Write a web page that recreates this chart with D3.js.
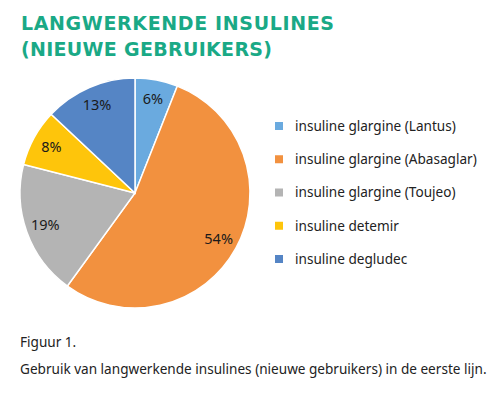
<!DOCTYPE html>
<html lang="nl">
<head>
<meta charset="UTF-8">
<script src="https://cdn.jsdelivr.net/npm/d3@7/dist/d3.min.js"></script>
<style>
  body { margin: 0; background: #fff; }
  text { font-family: "Noto Sans", "Open Sans", sans-serif; }
  text.title { font-family: "DejaVu Sans", "Noto Sans", sans-serif; }
</style>
</head>
<body>
<svg id="chart" width="493" height="396"></svg>
<script>
  // data
  let categories = ["insuline glargine (Lantus)", "insuline glargine (Abasaglar)", "insuline glargine (Toujeo)", "insuline detemir", "insuline degludec"];
  let shares = [6, 54, 19, 8, 13];
  let colors = ["#6aaadf", "#f2913f", "#b4b4b4", "#fec50b", "#5585c5"];
  let titleLines = ["LANGWERKENDE INSULINES", "(NIEUWE GEBRUIKERS)"];
  let captionLines = ["Figuur 1.", "Gebruik van langwerkende insulines (nieuwe gebruikers) in de eerste lijn."];

  let svg = d3.select("#chart");

  // shrink/grow a text's font size so it spans the wanted width
  function fitWidth(sel, width) {
    sel.each(function () {
      let t = d3.select(this);
      let fs = parseFloat(t.attr("font-size"));
      let w = this.getComputedTextLength();
      t.attr("font-size", fs * width / w);
    });
  }

  // title (wide tracking, like the original)
  svg.selectAll(".title").data(titleLines).enter()
    .append("text")
    .attr("class", "title")
    .attr("x", 21)
    .attr("y", (d, i) => 30 + i * 26)
    .attr("fill", "#1aa986")
    .attr("font-size", 19)
    .attr("font-weight", 700)
    .attr("textLength", (d, i) => i == 0 ? 313 : 251)
    .attr("lengthAdjust", "spacing")
    .text(d => d);

  // pie
  let cx = 135, cy = 193, r = 115;
  let pie = d3.pie().sort(null).value(d => d);
  let arc = d3.arc().innerRadius(0).outerRadius(r);
  let labelArc = d3.arc().innerRadius(r * 0.83).outerRadius(r * 0.83);

  let g = svg.append("g").attr("transform", `translate(${cx},${cy})`);
  let slices = pie(shares);

  g.selectAll("path").data(slices).enter()
    .append("path")
    .attr("d", arc)
    .attr("fill", (d, i) => colors[i])
    .attr("stroke", "#fff")
    .attr("stroke-width", 1.5);

  g.selectAll(".lbl").data(slices).enter()
    .append("text")
    .attr("class", "lbl")
    .attr("transform", d => `translate(${labelArc.centroid(d)})`)
    .attr("text-anchor", "middle")
    .attr("dy", "0.35em")
    .attr("font-size", 14.5)
    .attr("fill", "#1a1a1a")
    .text(d => d.data + "%");

  // legend
  let legendY = d3.scalePoint().domain(categories).range([126, 259]);
  let legend = svg.selectAll(".leg").data(categories).enter()
    .append("g")
    .attr("class", "leg")
    .attr("transform", d => `translate(275,${legendY(d)})`);

  legend.append("rect")
    .attr("x", 0).attr("y", -4)
    .attr("width", 8).attr("height", 8)
    .attr("fill", (d, i) => colors[i]);

  let legText = legend.append("text")
    .attr("x", 20)
    .attr("dy", "0.35em")
    .attr("font-size", 13)
    .attr("fill", "#222")
    .text(d => d);
  // widest entry spans about 182px; use one size for all
  let longest = legText.filter((d, i) => i == 1);
  fitWidth(longest, 182);
  legText.attr("font-size", longest.attr("font-size"));

  // caption
  let cap = svg.selectAll(".cap").data(captionLines).enter()
    .append("text")
    .attr("class", "cap")
    .attr("x", 20)
    .attr("y", (d, i) => 347 + i * 27)
    .attr("font-size", 12.5)
    .attr("fill", "#222")
    .text(d => d);
  let capLong = cap.filter((d, i) => i == 1);
  fitWidth(capLong, 467);
  cap.attr("font-size", capLong.attr("font-size"));
</script>
</body>
</html>
